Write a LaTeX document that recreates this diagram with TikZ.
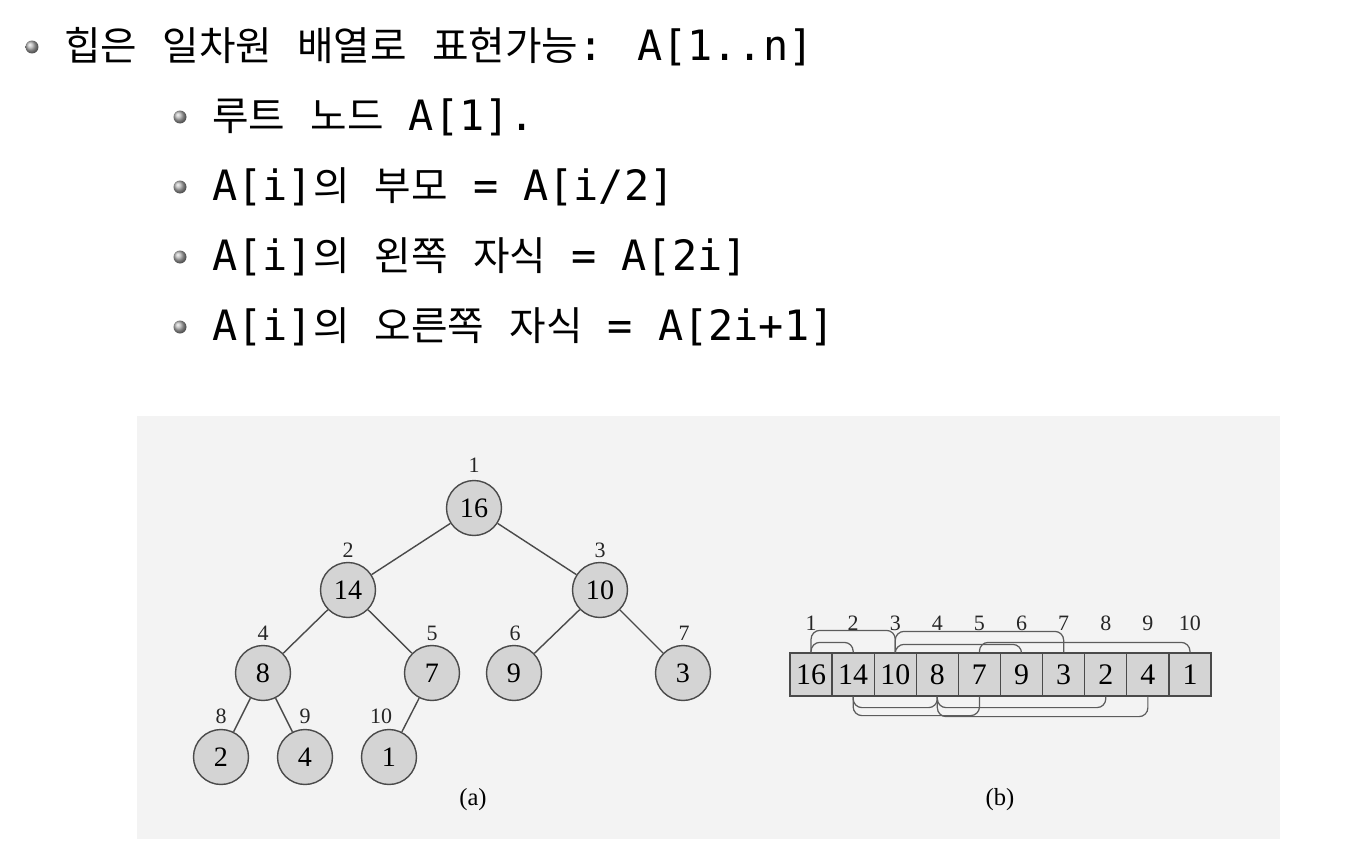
\documentclass[tikz,border=0pt]{standalone}
\usepackage{fontspec}
\setmainfont{Liberation Serif}
\newfontfamily\mo{DejaVu Sans Mono}
\newfontfamily\kr[Scale=0.95]{Noto Sans CJK KR}
\newcommand\K[1]{{\kr #1}}
\definecolor{boxbg}{HTML}{F3F3F3}
\definecolor{nodefill}{HTML}{D4D4D4}
\definecolor{edgecol}{HTML}{4A4A4A}
\tikzset{
  hnode/.style={circle, draw=edgecol, line width=0.8pt, fill=nodefill, minimum size=1.1cm, inner sep=0pt, font=\fontsize{16}{18}\selectfont},
  idx/.style={inner sep=0pt, font=\fontsize{12.5}{14}\selectfont, text=black!85},
  cell/.style={rectangle, draw=edgecol, line width=0.7pt, fill=nodefill, minimum width=0.842cm, minimum height=0.86cm, inner sep=0pt, font=\fontsize{17}{19}\selectfont},
  tedge/.style={draw=edgecol, line width=0.8pt},
  harc/.style={draw=edgecol!90, line width=0.7pt, rounded corners=5pt},
  bline/.style={anchor=base west, inner sep=0pt, font=\mo\fontsize{23.8}{28}\selectfont},
  bul/.style={circle, inner sep=0pt, minimum size=0.26cm, shading=ball, ball color=black!30},
  capnode/.style={inner sep=0pt, font=\fontsize{14}{16}\selectfont},
}
\begin{document}
\begin{tikzpicture}[x=0.02cm, y=-0.02cm]
\useasboundingbox (0,0) rectangle (1372,852);
\fill[white] (0,0) rectangle (1372,852);

% bullets and text
\node[bul] (b1) at (32,47) {};
\node[bline] (l1) at (64,60) {\K{힙은} \K{일차원} \K{배열로} \K{표현가능}: A[1..n]};
\node[bul] (b2) at (180,117) {};
\node[bline] (l2) at (212,130) {\K{루트} \K{노드} A[1].};
\node[bul] (b3) at (180,187) {};
\node[bline] (l3) at (212,200) {A[i]\K{의} \K{부모} = A[i/2]};
\node[bul] (b4) at (180,257) {};
\node[bline] (l4) at (212,270) {A[i]\K{의} \K{왼쪽} \K{자식} = A[2i]};
\node[bul] (b5) at (180,327) {};
\node[bline] (l5) at (212,340) {A[i]\K{의} \K{오른쪽} \K{자식} = A[2i+1]};

% figure background
\fill[boxbg] (137,416) rectangle (1280,839);

% tree
\node[hnode] (t1) at (474,508) {16};
\node[hnode] (t2) at (348,590) {14};
\node[hnode] (t3) at (600,590) {10};
\node[hnode] (t4) at (263,673) {8};
\node[hnode] (t5) at (432,673) {7};
\node[hnode] (t6) at (514,673) {9};
\node[hnode] (t7) at (683,673) {3};
\node[hnode] (t8) at (221,757) {2};
\node[hnode] (t9) at (305,757) {4};
\node[hnode] (t10) at (389,757) {1};
\foreach \p/\c in {1/2,1/3,2/4,2/5,3/6,3/7,4/8,4/9,5/10}
  \draw[tedge] (t\p) -- (t\c);
\node[idx] (i1) at (474,465) {1};
\node[idx] (i2) at (348,550) {2};
\node[idx] (i3) at (600,550) {3};
\node[idx] (i4) at (263,633) {4};
\node[idx] (i5) at (432,633) {5};
\node[idx] (i6) at (515,633) {6};
\node[idx] (i7) at (684,633) {7};
\node[idx] (i8) at (221,716) {8};
\node[idx] (i9) at (305,716) {9};
\node[idx] (i10) at (381,716) {10};
\node[capnode] (capa) at (473,800) {(a)};

% array
\foreach \v [count=\i] in {16,14,10,8,7,9,3,2,4,1} {
  \node[cell] (c\i) at ({790+42.1*(\i-0.5)},674.5) {\v};
  \node[idx] (a\i) at ({790+42.1*(\i-0.5)},623) {\i};
}
\draw[harc] (c1.north) -- ++(0,-10) -| (c2.north);
\draw[harc] (c1.north) -- ++(0,-22) -| (c3.north);
\draw[harc] (c3.north) -- ++(0,-21) -| (c7.north);
\draw[harc] (c3.north) -- ++(0,-8) -| (c6.north);
\draw[harc] (c5.north) -- ++(0,-10) -| (c10.north);
\draw[harc] (c2.south) -- ++(0,11) -| (c4.south);
\draw[harc] (c2.south) -- ++(0,19) -| (c5.south);
\draw[harc] (c4.south) -- ++(0,11) -| (c8.south);
\draw[harc] (c4.south) -- ++(0,20) -| (c9.south);
\node[capnode] (capb) at (1000,800) {(b)};
\end{tikzpicture}
\end{document}
